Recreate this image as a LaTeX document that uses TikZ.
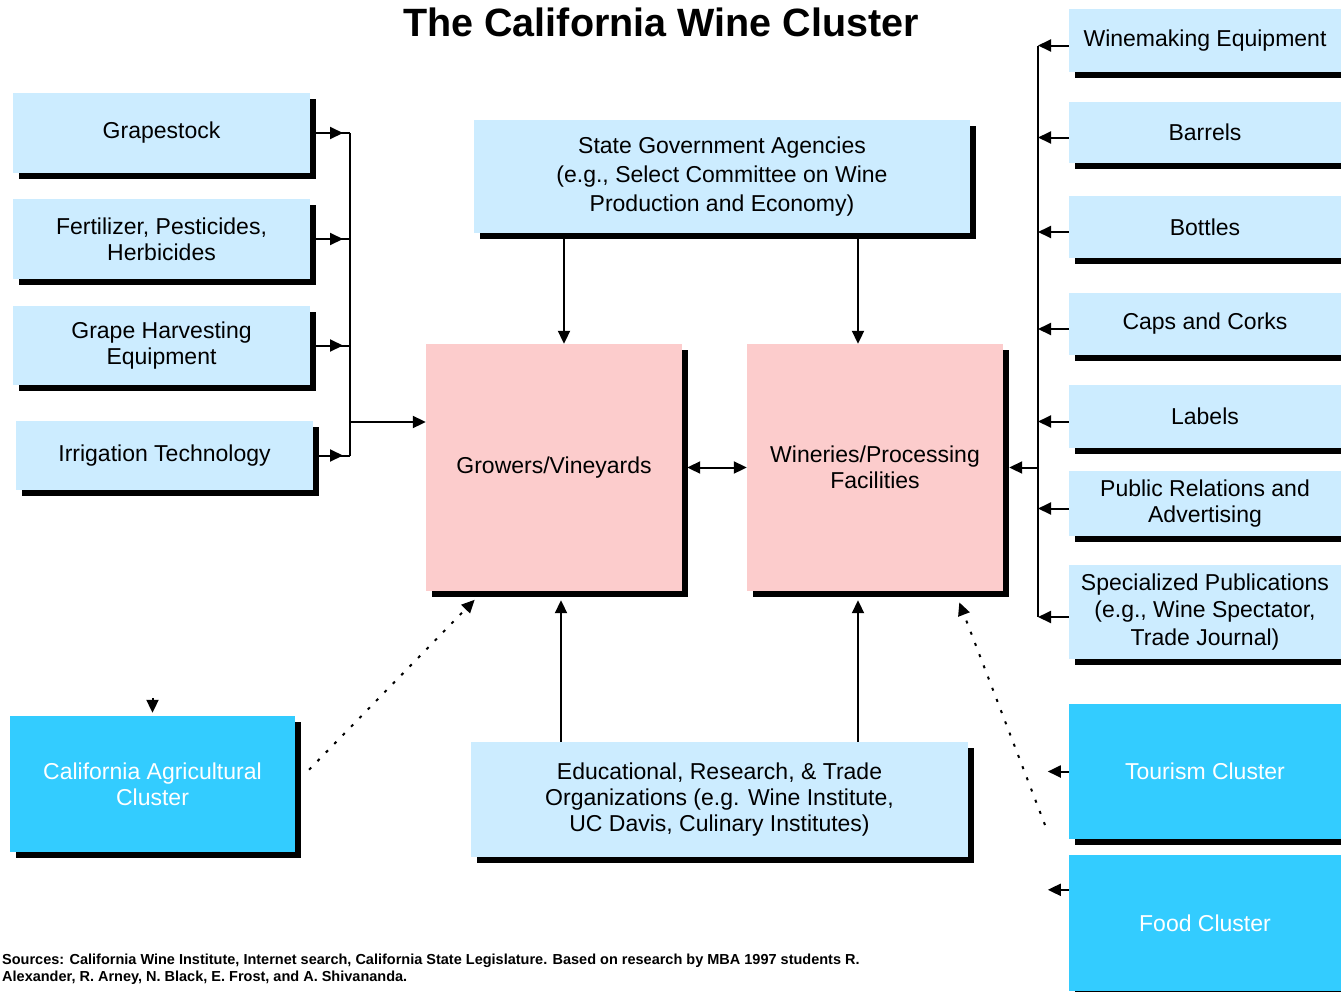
\documentclass[tikz,border=0pt]{standalone}
\usepackage{fontspec}
\setmainfont{Liberation Sans}
\usetikzlibrary{shadows,arrows.meta,positioning}
\definecolor{supplyblue}{HTML}{CCECFF}
\definecolor{corepink}{HTML}{FCCCCC}
\definecolor{clustercyan}{HTML}{33CCFF}

\begin{document}
\begin{tikzpicture}[x=1pt, y=-1pt, >={Triangle[length=13pt, width=12pt]},
        every node/.style = {shape=rectangle, inner sep=0pt, align=center,
                             font=\fontsize{23}{26}\selectfont},
        box/.style = {drop shadow={shadow xshift=6pt, shadow yshift=-6pt,
                                   fill=black, opacity=1}},
        supply/.style = {box, fill=supplyblue},
        leftcol/.style = {supply, minimum width=297pt},
        rightcol/.style = {supply, minimum width=272pt},
        core/.style = {box, fill=corepink, minimum width=256pt, minimum height=247pt},
        related/.style = {box, fill=clustercyan, text=white},
        wire/.style = {line width=2pt},
        link/.style = {wire, ->},
        dots/.style = {link, dash pattern=on 3pt off 9pt}]
    \useasboundingbox (0,0) rectangle (1341,991);

    \node[font=\fontsize{39.5}{44}\selectfont\bfseries] (title) at (661,22) {The California Wine Cluster};

    % suppliers to the growers
    \node[leftcol, minimum height=80pt] (grape) at (161.5,133) {Grapestock};
    \node[leftcol, minimum height=80pt] (fert) at (161.5,239) {Fertilizer, Pesticides,\\Herbicides};
    \node[leftcol, minimum height=79pt] (harv) at (161.5,345.5) {Grape Harvesting\\Equipment};
    \node[leftcol, minimum height=69pt] (irrig) at (164.5,455.5) {Irrigation Technology};

    \node[supply, minimum width=496pt, minimum height=113pt,
          font=\fontsize{23}{29}\selectfont] (state) at (722,176.5)
          {State Government Agencies\\(e.g., Select Committee on Wine\\Production and Economy)};
    \node[core] (grow) at (554,467.5) {Growers/Vineyards};
    \node[core] (wine) at (875,467.5) {Wineries/Processing\\Facilities};
    \node[supply, minimum width=497pt, minimum height=115pt] (edu) at (719.5,799.5)
          {Educational, Research, \& Trade\\Organizations (e.g. Wine Institute,\\UC Davis, Culinary Institutes)};
    \node[related, minimum width=285pt, minimum height=136pt] (agri) at (152.5,784)
          {California Agricultural\\Cluster};

    % suppliers to the wineries
    \node[rightcol, minimum height=63pt] (wequip) at (1205,40.5) {Winemaking Equipment};
    \node[rightcol, minimum height=61pt] (barrel) at (1205,132.5) {Barrels};
    \node[rightcol, minimum height=62pt] (bottle) at (1205,227) {Bottles};
    \node[rightcol, minimum height=62pt] (caps) at (1205,324) {Caps and Corks};
    \node[rightcol, minimum height=63pt] (label) at (1205,416.5) {Labels};
    \node[rightcol, minimum height=65pt] (pr) at (1205,503.5) {Public Relations and\\Advertising};
    \node[rightcol, minimum height=94pt, font=\fontsize{23}{27.5}\selectfont] (spec) at (1205,612)
          {Specialized Publications\\(e.g., Wine Spectator,\\Trade Journal)};
    \node[related, minimum width=272pt, minimum height=135pt] (tour) at (1205,771.5) {Tourism Cluster};
    \node[related, minimum width=272pt, minimum height=136pt] (food) at (1205,923) {Food Cluster};

    \node[anchor=west, align=left, font=\fontsize{14.5}{17}\selectfont\bfseries] (src) at (2,969.5)
          {Sources: California Wine Institute, Internet search, California State Legislature. Based on research by MBA 1997 students R.\\
           Alexander, R. Arney, N. Black, E. Frost, and A. Shivananda.};

    \coordinate (lbus) at (350,0);
    \coordinate (rbus) at (1038,0);
    \coordinate (ljoin) at (350,422);
    \coordinate (gx1) at (564,0);
    \coordinate (wx1) at (858,0);
    \coordinate (gx2) at (561,0);
    \coordinate (gdot) at (483,0);
    \coordinate (wdot) at (955,0);
    \coordinate (tdot) at (1045,825);
    \coordinate[above=18pt of agri.north] (agritop);
    \coordinate[left=21pt of tour.west] (tourend);
    \coordinate[left=21pt of food.west] (foodend);

    \foreach \n in {grape,fert,harv,irrig} {
        \draw[wire] (\n.east) -- (\n.east -| lbus);
        \draw[link, shorten >=7pt] (\n.east) -- (\n.east -| lbus);
    }
    \draw[wire] (grape.east -| lbus) -- (irrig.east -| lbus);
    \draw[link] (ljoin) -- (ljoin -| grow.west);

    \foreach \n in {wequip,barrel,bottle,caps,label,pr,spec}
        \draw[link] ([yshift=-5pt]\n.west) -- ([yshift=-5pt]\n.west -| rbus);
    \draw[wire] ([yshift=-5pt]wequip.west -| rbus) -- ([yshift=-5pt]spec.west -| rbus);
    \draw[link, shorten >=6pt] (rbus |- wine.east) -- (wine.east);

    \draw[link] (state.south -| gx1) -- (grow.north -| gx1);
    \draw[link] (state.south -| wx1) -- (wine.north -| wx1);
    \draw[link, shorten >=9pt] (edu.north -| gx2) -- (grow.south -| gx2);
    \draw[link, shorten >=9pt] (edu.north -| wx1) -- (wine.south -| wx1);
    \draw[wire, <->, shorten <=5pt] (grow.east) -- (wine.west);

    \draw[dots, shorten <=20pt, shorten >=12pt] (agri.east) -- (grow.south -| gdot);
    \draw[dots, shorten >=12pt] (tdot) -- (wine.south -| wdot);
    \draw[link, shorten >=3pt] (agritop) -- (agri.north);
    \draw[link] (tour.west) -- (tourend);
    \draw[link] ([yshift=-35pt]food.north west) -- ([yshift=-35pt]food.north west -| foodend);
\end{tikzpicture}
\end{document}
